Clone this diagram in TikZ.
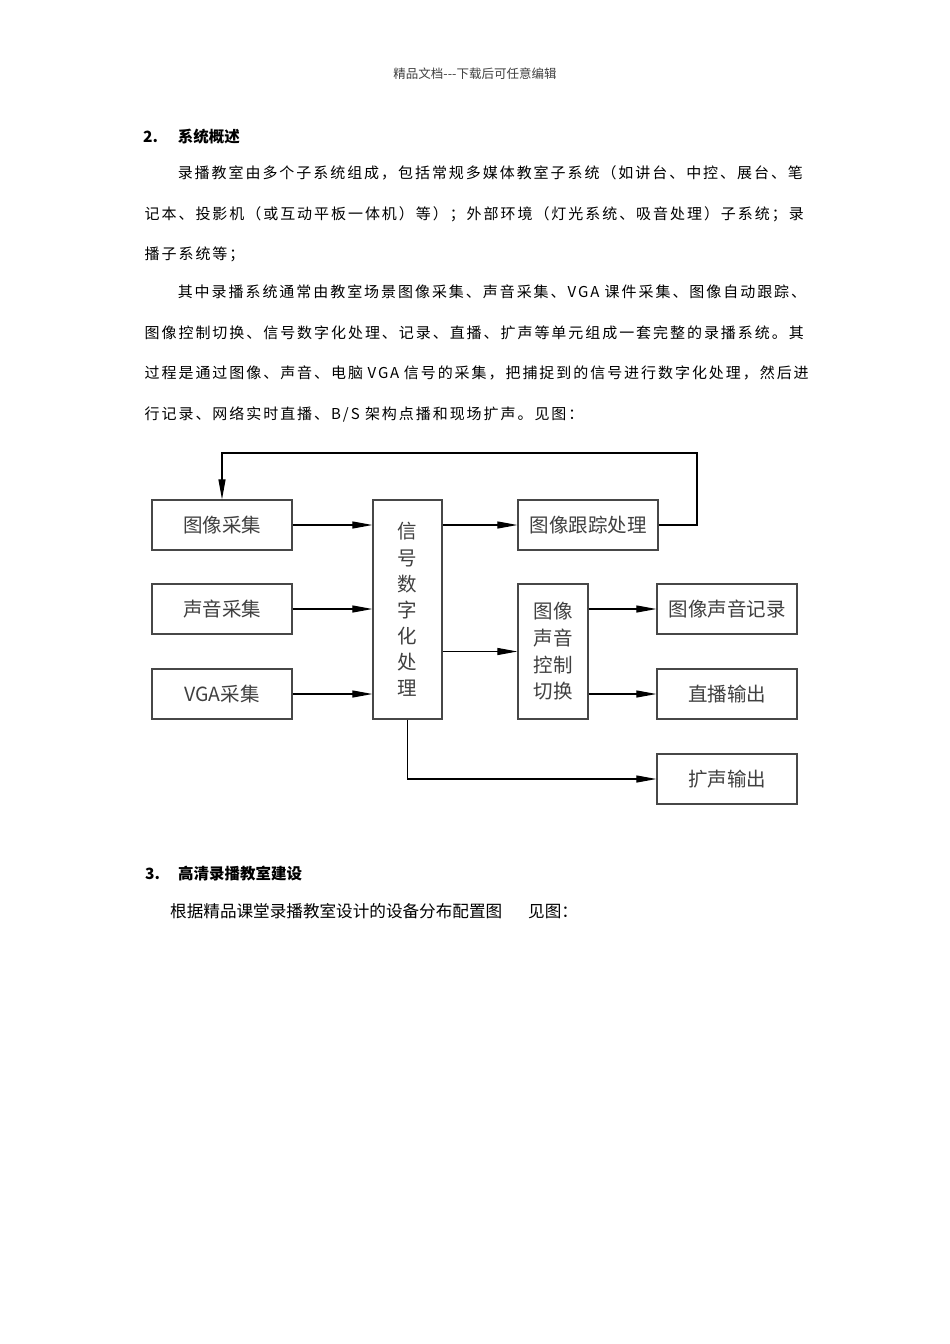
\documentclass[tikz,border=0pt]{standalone}
\usepackage{fontspec}
\usetikzlibrary{arrows.meta}
\newfontfamily\cjk{Noto Sans CJK SC}
\newfontfamily\bodyf[LetterSpace=13]{Noto Sans CJK SC}
\begin{document}
\begin{tikzpicture}[x=1pt,y=-1pt,
  box/.style={draw=black!72, line width=1.2pt, fill=white, inner sep=0pt,
    font=\cjk\fontsize{19.5}{26}\selectfont, text=black!75},
  wbox/.style={box, minimum width=140pt, minimum height=50pt},
  arr/.style={draw=black, line width=1.1pt, -{Triangle[length=20pt,width=7pt]}},
  body/.style={anchor=west, inner sep=0pt, font=\bodyf\fontsize{15}{18}\selectfont, text=black},
  head/.style={anchor=west, inner sep=0pt, font=\cjk\bfseries\fontsize{15.5}{18}\selectfont, text=black},
  hdr/.style={inner sep=0pt, font=\cjk\fontsize{12.5}{14}\selectfont, text=black!75}]
\useasboundingbox[fill=white] (0,0) rectangle (950,1344);

% page header
\node[hdr] (hdr) at (475,74) {精品文档-{}-{}-下载后可任意编辑};

% section 2
\node[head] (h2n) at (143,137) {2.};
\node[head] (h2) at (177.6,137) {系统概述};
\node[body] (l1) at (177.6,173) {录播教室由多个子系统组成，包括常规多媒体教室子系统（如讲台、中控、展台、笔};
\node[body] (l2) at (144.5,214) {记本、投影机（或互动平板一体机）等）；外部环境（灯光系统、吸音处理）子系统；录};
\node[body] (l3) at (144.5,254) {播子系统等；};
\node[body] (l4) at (177.6,292) {其中录播系统通常由教室场景图像采集、声音采集、VGA 课件采集、图像自动跟踪、};
\node[body] (l5) at (144.5,333) {图像控制切换、信号数字化处理、记录、直播、扩声等单元组成一套完整的录播系统。其};
\node[body] (l6) at (144.5,373) {过程是通过图像、声音、电脑\hspace{4.5pt}VGA\hspace{4.5pt}信号的采集，把捕捉到的信号进行数字化处理，然后进};
\node[body] (l7) at (144.5,414) {行记录、网络实时直播、B/S 架构点播和现场扩声。见图：};

% diagram
\node[wbox] (img) at (222,525) {图像采集};
\node[wbox] (snd) at (222,609) {声音采集};
\node[wbox] (vga) at (222,694) {VGA采集};
\node[box, minimum width=69pt, minimum height=219pt, align=center,
  font=\cjk\fontsize{19.5}{26.1}\selectfont] (sig) at (407.5,609.5) {信\\号\\数\\字\\化\\处\\理};
\node[wbox] (trk) at (588,525) {图像跟踪处理};
\node[box, minimum width=70pt, minimum height=135pt, align=center,
  font=\cjk\fontsize{19.5}{26.7}\selectfont] (ctl) at (553,651.5) {图像\\声音\\控制\\切换};
\node[wbox] (rec) at (727,609) {图像声音记录};
\node[wbox] (live) at (727,694) {直播输出};
\node[wbox] (amp) at (727,779) {扩声输出};
\coordinate (fb) at (697,453);

\draw[arr] (img.east) -- (img.east -| sig.west);
\draw[arr] (snd.east) -- (snd.east -| sig.west);
\draw[arr] (vga.east) -- (vga.east -| sig.west);
\draw[arr] (sig.east |- trk.west) -- (trk.west);
\draw[arr] (sig.east |- ctl.west) -- (ctl.west);
\draw[arr] (ctl.east |- rec.west) -- (rec.west);
\draw[arr] (ctl.east |- live.west) -- (live.west);
\draw[arr] (sig.south) |- (amp.west);
\draw[arr] (trk.east) -| (fb) -| (img.north);

% section 3
\node[head] (h3n) at (145,874) {3.};
\node[head] (h3) at (178,874) {高清录播教室建设};
\node[body, font=\cjk\fontsize{16.6}{18}\selectfont] (l8) at (170,911.5) {根据精品课堂录播教室设计的设备分布配置图};
\node[body, font=\cjk\fontsize{16.6}{18}\selectfont] (l9) at (528,911.5) {见图：};
\end{tikzpicture}
\end{document}
